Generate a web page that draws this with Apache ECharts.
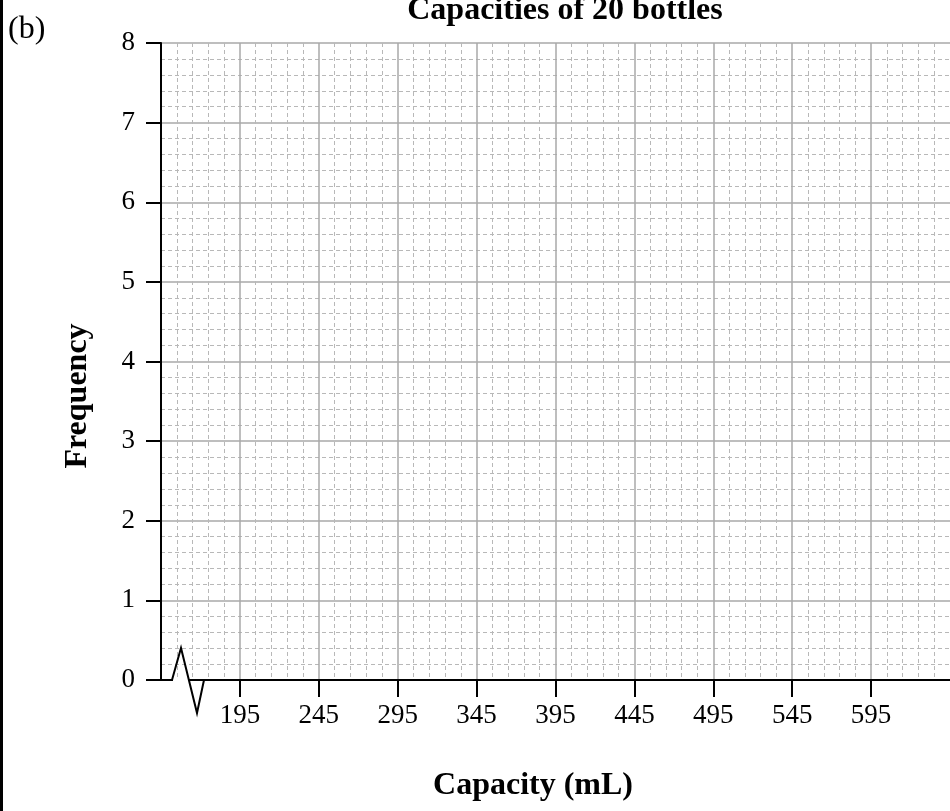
<!DOCTYPE html>
<html>
<head>
    <meta charset="UTF-8">
    <script src="https://cdn.jsdelivr.net/npm/echarts@6/dist/echarts.min.js"></script>
    <style>
        html, body { margin: 0; padding: 0; background: #fff; }
    </style>
</head>
<body>
<div id="chartMain" style="width: 950px; height: 811px;"></div>

<script type="text/javascript">
    // axis ranges and tick labels
    var xMin = 145;
    var xMax = 645;
    var xStep = 50;
    var xTickValues = [195, 245, 295, 345, 395, 445, 495, 545, 595];
    var yMin = 0;
    var yMax = 8;
    var yStep = 1;
    var frequencies = [];   // no bars drawn yet, the grid is empty

    var serif = "'Liberation Serif', 'Times New Roman', serif";

    var myChart = echarts.init(document.getElementById('chartMain'));
    var option = {
        animation: false,
        backgroundColor: '#fff',
        title: {
            text: 'Capacities of 20 bottles',
            left: 560,
            top: -10,
            textAlign: 'center',
            textStyle: {
                fontFamily: serif,
                fontSize: 32,
                fontWeight: 'bold',
                color: '#000'
            }
        },
        grid: {
            left: 161,
            top: 43,
            width: 795,
            height: 637
        },
        xAxis: {
            type: 'value',
            min: xMin,
            max: xMax,
            interval: xStep,
            axisLine: { show: true, lineStyle: { color: '#000', width: 2 } },
            axisTick: {
                show: true,
                length: 17,
                customValues: xTickValues,
                lineStyle: { color: '#000', width: 2 }
            },
            axisLabel: {
                customValues: xTickValues,
                margin: 22,
                fontFamily: serif,
                fontSize: 27,
                color: '#000'
            },
            splitLine: { show: true, lineStyle: { color: '#a8a8a8', width: 1.5 } },
            minorTick: { show: false, splitNumber: 5 },
            minorSplitLine: { show: true, lineStyle: { color: '#b8b8b8', width: 1, type: [4, 3] } }
        },
        yAxis: {
            type: 'value',
            min: yMin,
            max: yMax,
            interval: yStep,
            axisLine: { show: true, lineStyle: { color: '#000', width: 2 } },
            axisTick: { show: true, length: 15, lineStyle: { color: '#000', width: 2 } },
            axisLabel: {
                margin: 26,
                fontFamily: serif,
                fontSize: 27,
                color: '#000'
            },
            splitLine: { show: true, lineStyle: { color: '#a8a8a8', width: 1.5 } },
            minorTick: { show: false, splitNumber: 5 },
            minorSplitLine: { show: true, lineStyle: { color: '#b8b8b8', width: 1, type: [4, 3] } }
        },
        series: [
            {
                name: 'Frequency',
                type: 'bar',
                data: frequencies
            }
        ]
    };
    myChart.setOption(option);

    // axis break zig-zag, the axis stub and the loose texts, placed from the origin pixel
    var o = myChart.convertToPixel({ gridIndex: 0 }, [xMin, yMin]);
    var ox = o[0], oy = o[1];
    myChart.setOption({
        graphic: [
            { type: 'rect', shape: { x: 0, y: 0, width: 3, height: 811 }, style: { fill: '#000' } },
            { type: 'line', shape: { x1: ox + 12, y1: oy, x2: ox + 27, y2: oy },
              style: { stroke: '#fff', lineWidth: 4 }, z: 100 },
            { type: 'polyline',
              shape: { points: [[ox - 15, oy], [ox + 11, oy], [ox + 20, oy - 32], [ox + 36, oy + 33], [ox + 43, oy]] },
              style: { stroke: '#000', lineWidth: 2, fill: null }, z: 101 },
            { type: 'text', left: 8, top: 14,
              style: { text: '(b)', font: '32px ' + serif, fill: '#000' } },
            { type: 'text', x: 78, y: 396, rotation: Math.PI / 2,
              style: { text: 'Frequency', font: 'bold 32px ' + serif, fill: '#000',
                       align: 'center', verticalAlign: 'middle' } },
            { type: 'text', x: 533, y: 786,
              style: { text: 'Capacity (mL)', font: 'bold 32px ' + serif, fill: '#000',
                       align: 'center', verticalAlign: 'middle' } }
        ]
    });
</script>
</body>
</html>
